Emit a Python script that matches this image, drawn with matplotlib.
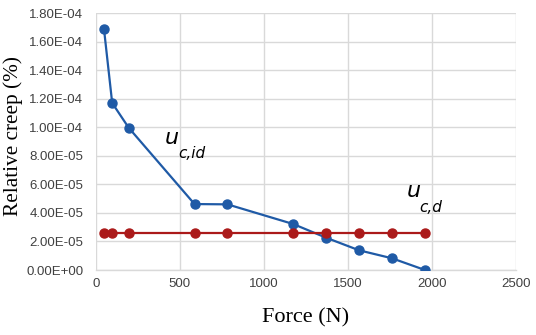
import matplotlib
matplotlib.use("Agg")
from matplotlib import pyplot as plt
from matplotlib.ticker import FuncFormatter

# data
force = [49, 98, 196, 588, 784, 1176, 1372, 1568, 1764, 1960]
u_c_id = [1.69e-4, 1.17e-4, 9.97e-5, 4.62e-5, 4.60e-5, 3.22e-5, 2.26e-5, 1.38e-5, 8.2e-6, 0.0]
u_c_d = [2.57e-5] * len(force)

x_ticks = [0, 500, 1000, 1500, 2000, 2500]
y_ticks = [i * 2e-5 for i in range(10)]

blue = "#1f5aa6"
red = "#ab1a1a"
grid_col = "#d9d9d9"

fig = plt.figure(figsize=(5.36, 3.35), dpi=100)
ax = fig.add_axes([0.1786, 0.194, 0.7835, 0.767])

ax.plot(force, u_c_id, color=blue, lw=1.6, marker="o", ms=6.5, zorder=3)
ax.plot(force, u_c_d, color=red, lw=1.6, marker="o", ms=6.5, zorder=3)

ax.set_xlim(0, 2500)
ax.set_ylim(0, 1.8e-4)
ax.set_xticks(x_ticks)
ax.set_yticks(y_ticks)
ax.yaxis.set_major_formatter(FuncFormatter(lambda v, p: "{:.2E}".format(v)))

ax.grid(True, color=grid_col, lw=1.0)
ax.set_axisbelow(True)
for side in ["top", "right", "left"]:
    ax.spines[side].set_visible(False)
ax.spines["bottom"].set_color(grid_col)
ax.spines["bottom"].set_linewidth(1.0)
ax.tick_params(length=0, labelsize=9.5, colors="#404040")
ax.tick_params(axis="y", pad=9)
ax.tick_params(axis="x", pad=6)
for lab in ax.get_xticklabels() + ax.get_yticklabels():
    lab.set_family("Liberation Sans")

# axis titles placed on the figure to match the reference
fig.text(305.7 / 536, 1 - 318 / 335, "Force (N)", family="Liberation Serif",
         fontsize=16, ha="center", va="center")
fig.text(13 / 536, 1 - 136 / 335, "Relative creep (%)", family="Liberation Serif",
         fontsize=15.3, ha="center", va="center", rotation=90)

# curve labels
ax.text(413, 8.82e-5, "u", style="italic", fontsize=16, ha="left", va="baseline")
ax.text(490, 7.84e-5, "c,id", style="italic", fontsize=11, ha="left", va="baseline")
ax.text(1853, 5.11e-5, "u", style="italic", fontsize=16, ha="left", va="baseline")
ax.text(1924, 4.06e-5, "c,d", style="italic", fontsize=11, ha="left", va="baseline")

fig.savefig("out.png", dpi=100)
